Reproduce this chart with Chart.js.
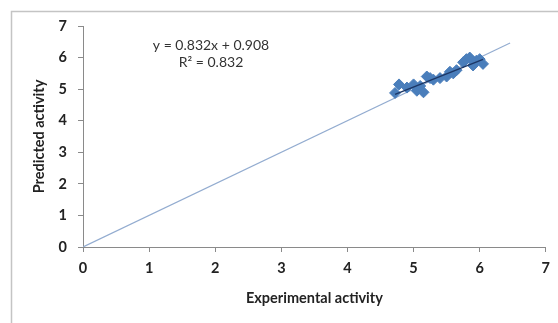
<!DOCTYPE html>
<html>
<head>
<meta charset="utf-8">
<script src="https://cdn.jsdelivr.net/npm/chart.js@4"></script>
<style>
  html, body { margin: 0; padding: 0; background: #fff; }
  #wrap { position: relative; width: 558px; height: 323px; }
</style>
</head>
<body>
<div id="wrap"><canvas id="chart" width="558" height="323"></canvas></div>
<script>
// ===== DATA =====
const experimental = [4.72, 4.78, 4.90, 5.00, 5.05, 5.10, 5.15, 5.20, 5.25, 5.30, 5.40, 5.50, 5.55, 5.60, 5.65, 5.75, 5.80, 5.85, 5.90, 5.95, 6.00, 6.05];
const predicted    = [4.88, 5.15, 5.05, 5.15, 4.95, 5.10, 4.90, 5.40, 5.35, 5.30, 5.35, 5.40, 5.55, 5.50, 5.60, 5.85, 5.95, 6.00, 5.75, 5.90, 5.95, 5.80];
const identityLine = [0, 6.46];
const fitSlope = 0.832;
const fitIntercept = 0.908;
const axisTicks = [0, 1, 2, 3, 4, 5, 6, 7];

const points = experimental.map((x, i) => ({ x, y: predicted[i] }));
const xMin = Math.min(...experimental);
const xMax = Math.max(...experimental);
const trend = [xMin, xMax].map(x => ({ x, y: fitSlope * x + fitIntercept }));
const identity = identityLine.map(v => ({ x: v, y: v }));

const FONT = 'Lato, "Open Sans", sans-serif';

// outer frame + equation label
const framePlugin = {
  id: 'frame',
  beforeDraw(chart) {
    const ctx = chart.ctx;
    ctx.save();
    ctx.fillStyle = '#fff';
    ctx.fillRect(0, 0, chart.width, chart.height);
    ctx.strokeStyle = '#c4c4c4';
    ctx.lineWidth = 1.5;
    ctx.strokeRect(11.5, 11.5, 700, 500);
    ctx.restore();
  },
  afterDraw(chart) {
    const ctx = chart.ctx;
    ctx.save();
    ctx.fillStyle = '#333';
    ctx.font = '14px ' + FONT;
    ctx.textAlign = 'center';
    ctx.textBaseline = 'middle';
    ctx.fillText('y = ' + fitSlope + 'x + ' + fitIntercept, 211, 45);
    ctx.fillText('R² = 0.832', 211, 62);
    ctx.restore();
  }
};

new Chart(document.getElementById('chart'), {
  type: 'scatter',
  data: {
    datasets: [
      {
        label: 'fit',
        data: trend,
        showLine: true,
        borderColor: '#1c3766',
        borderWidth: 1.5,
        pointRadius: 0
      },
      {
        label: 'activity',
        data: points,
        pointStyle: 'rectRot',
        pointRadius: 5.5,
        backgroundColor: '#4a7ebb',
        borderColor: '#4a7ebb',
        borderWidth: 1
      },
      {
        label: 'identity',
        data: identity,
        showLine: true,
        borderColor: '#93acd0',
        borderWidth: 1.2,
        pointRadius: 0
      }
    ]
  },
  options: {
    responsive: false,
    animation: false,
    events: [],
    layout: { padding: { top: 26, right: 10, bottom: 0, left: 0 } },
    plugins: {
      legend: { display: false },
      tooltip: { enabled: false }
    },
    scales: {
      x: {
        type: 'linear',
        min: 0,
        max: 7,
        afterBuildTicks: s => { s.ticks = axisTicks.map(v => ({ value: v })); },
        afterFit: s => { s.height = 76; },
        border: { color: '#8a8a8a', width: 1 },
        grid: { drawOnChartArea: false, tickLength: 5, color: '#8a8a8a' },
        ticks: { color: '#222', padding: 8, font: { family: FONT, size: 14.5, weight: 'bold' } },
        title: {
          display: true,
          text: 'Experimental activity',
          color: '#222',
          font: { family: FONT, size: 14.5, weight: 'bold' },
          padding: { top: 0, bottom: 16 }
        }
      },
      y: {
        type: 'linear',
        min: 0,
        max: 7,
        afterBuildTicks: s => { s.ticks = axisTicks.map(v => ({ value: v })); },
        afterFit: s => { s.width = 83; },
        border: { color: '#8a8a8a', width: 1 },
        grid: { drawOnChartArea: false, tickLength: 5, color: '#8a8a8a' },
        ticks: { color: '#222', padding: 11, font: { family: FONT, size: 14.5, weight: 'bold' } },
        title: {
          display: true,
          text: 'Predicted activity',
          color: '#222',
          font: { family: FONT, size: 14.5, weight: 'bold' },
          padding: { top: 31, bottom: 0 }
        }
      }
    }
  },
  plugins: [framePlugin]
});
</script>
</body>
</html>
